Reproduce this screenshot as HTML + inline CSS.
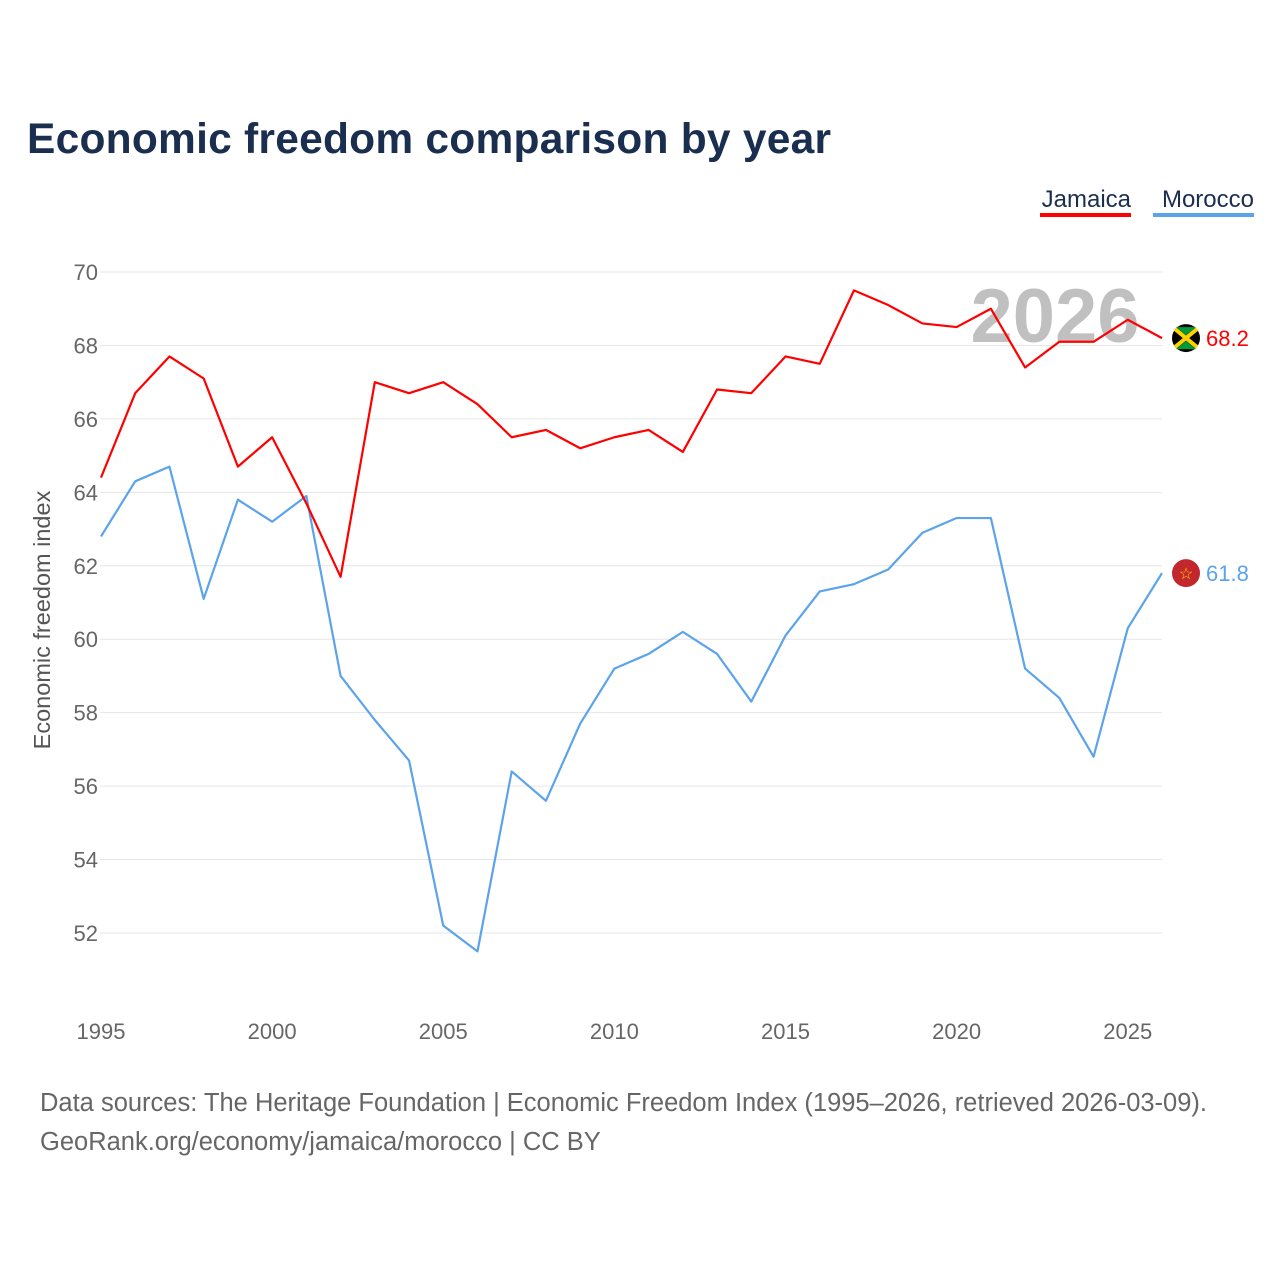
<!DOCTYPE html>
<html><head><meta charset="utf-8"><style>
body{margin:0;background:#fff;font-family:"Liberation Sans",sans-serif}
svg text{font-family:"Liberation Sans",sans-serif}
</style></head><body>
<svg id="c" width="1280" height="1280" xmlns="http://www.w3.org/2000/svg">
<rect width="1280" height="1280" fill="#fff"/>
<text x="27" y="153" font-size="42.5" font-weight="bold" fill="#1a2e4f" textLength="804">Economic freedom comparison by year</text>
<g><text x="1131" y="207" font-size="24" fill="#1a2e4f" text-anchor="end">Jamaica</text><rect x="1040" y="213" width="91" height="4" fill="#ff0000"/></g>
<g><text x="1254" y="207" font-size="24" fill="#1a2e4f" text-anchor="end">Morocco</text><rect x="1153" y="213" width="101" height="4" fill="#5ba3ea"/></g>
<text x="1055" y="342" font-size="76" font-weight="bold" fill="#c0c0c0" text-anchor="middle">2026</text>
<text transform="translate(50,620) rotate(-90)" font-size="23.5" fill="#555" text-anchor="middle">Economic freedom index</text>
<g id="grid"></g><g id="series"></g>
<text x="40" y="1111" font-size="25.5" fill="#666" textLength="1167">Data sources: The Heritage Foundation | Economic Freedom Index (1995–2026, retrieved 2026-03-09).</text>
<text x="40" y="1150" font-size="25.5" fill="#666">GeoRank.org/economy/jamaica/morocco | CC BY</text>
</svg>
<script>
const years=[1995,1996,1997,1998,1999,2000,2001,2002,2003,2004,2005,2006,2007,2008,2009,2010,2011,2012,2013,2014,2015,2016,2017,2018,2019,2020,2021,2022,2023,2024,2025,2026];
const jamaica=[64.4,66.7,67.7,67.1,64.7,65.5,63.7,61.7,67.0,66.7,67.0,66.4,65.5,65.7,65.2,65.5,65.7,65.1,66.8,66.7,67.7,67.5,69.5,69.1,68.6,68.5,69.0,67.4,68.1,68.1,68.7,68.2];
const morocco=[62.8,64.3,64.7,61.1,63.8,63.2,63.9,59.0,57.8,56.7,52.2,51.5,56.4,55.6,57.7,59.2,59.6,60.2,59.6,58.3,60.1,61.3,61.5,61.9,62.9,63.3,63.3,59.2,58.4,56.8,60.3,61.8];
const yTicks=[52,54,56,58,60,62,64,66,68,70];
const xTicks=[1995,2000,2005,2010,2015,2020,2025];
const NS="http://www.w3.org/2000/svg";
const x=v=>101+(v-1995)*(1162-101)/31;
const y=v=>272+(70-v)*(933-272)/18;
const grid=document.getElementById('grid'),ser=document.getElementById('series');
function mk(t,a,p){const e=document.createElementNS(NS,t);for(const k in a)e.setAttribute(k,a[k]);p.appendChild(e);return e;}
yTicks.forEach(t=>{
 const l=mk('line',{x1:100,x2:1162,y1:y(t),y2:y(t),stroke:'#e6e6e6','stroke-width':1},grid);
 
 
 const tx=mk('text',{x:98,y:y(t)+8,'font-size':22,fill:'#666','text-anchor':'end'},grid);tx.textContent=t;
 
 
});
xTicks.forEach(t=>{
 const tx=mk('text',{x:x(t),y:1039,'font-size':22,fill:'#666','text-anchor':'middle'},grid);tx.textContent=t;
 
 
});
function line(vals,color,name){
 const p=mk('polyline',{points:vals.map((v,i)=>x(years[i])+','+y(v)).join(' '),fill:'none',stroke:color,'stroke-width':2.2,'stroke-linejoin':'round'},ser);
 
 
 const last=vals[vals.length-1],cy=y(last);
 const c=mk('circle',{cx:1186,cy:cy,r:14,fill:name=='jamaica'?'#000':'#c1272d'},ser);
 
 
 if(name=='jamaica'){mk('path',{d:`M1175 ${cy-9}L1197 ${cy+9}M1197 ${cy-9}L1175 ${cy+9}`,stroke:'#fed100','stroke-width':4},ser);
  mk('path',{d:`M1176 ${cy-11}L1186 ${cy-3}L1196 ${cy-11}Z M1176 ${cy+11}L1186 ${cy+3}L1196 ${cy+11}Z`,fill:'#009b3a'},ser);}
 else{const s=mk('text',{x:1186,y:cy+6,'font-size':16,fill:'#fed100','text-anchor':'middle'},ser);s.textContent='☆';}
 const t=mk('text',{x:1206,y:cy+8,'font-size':22,fill:color},ser);t.textContent=last.toFixed(1);
 
 
}
line(morocco,'#5ba3ea','morocco');
line(jamaica,'#ff0000','jamaica');
</script>
</body></html>
